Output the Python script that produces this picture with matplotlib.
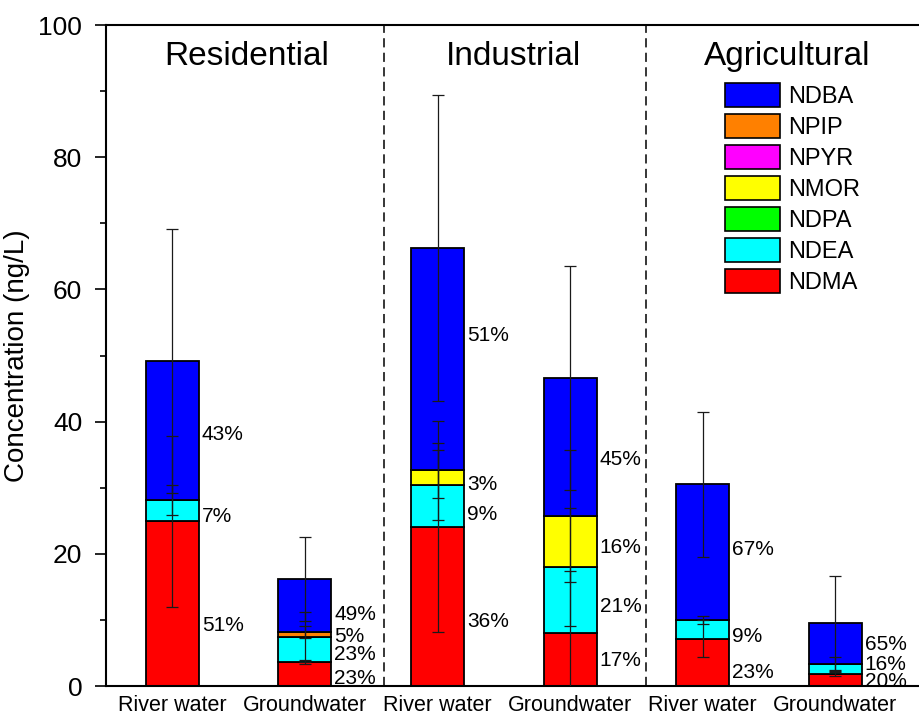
import matplotlib
matplotlib.use("Agg")
import matplotlib.pyplot as plt
from matplotlib.patches import Patch
import numpy as np

plt.rcParams["font.family"] = ["Liberation Sans", "DejaVu Sans"]

# ---- data -------------------------------------------------------------
groups = ["Residential", "Industrial", "Agricultural"]
sample_types = ["River water", "Groundwater", "River water",
                "Groundwater", "River water", "Groundwater"]

compounds = ["NDMA", "NDEA", "NDPA", "NMOR", "NPYR", "NPIP", "NDBA"]

# mean concentrations (ng/L), one value per bar
NDMA = [24.90, 3.70, 24.13, 8.06, 7.14, 1.86]
NDEA = [3.25, 3.72, 6.23, 9.97, 2.84, 1.48]
NDPA = [0.0, 0.0, 0.0, 0.0, 0.0, 0.0]
NMOR = [0.0, 0.0, 2.25, 7.64, 0.0, 0.0]
NPYR = [0.0, 0.0, 0.0, 0.0, 0.0, 0.0]
NPIP = [0.0, 0.80, 0.0, 0.0, 0.0, 0.0]
NDBA = [21.06, 7.98, 33.68, 20.92, 20.53, 6.16]

# standard deviations (ng/L)
NDMA_sd = [13.0, 0.3, 16.0, 9.4, 2.8, 0.3]
NDEA_sd = [2.3, 3.8, 5.3, 8.9, 0.6, 1.1]
NDPA_sd = [0.0, 0.0, 0.0, 0.0, 0.0, 0.0]
NMOR_sd = [0.0, 0.0, 4.1, 10.0, 0.0, 0.0]
NPYR_sd = [0.0, 0.0, 0.0, 0.0, 0.0, 0.0]
NPIP_sd = [0.0, 0.9, 0.0, 0.0, 0.0, 0.0]
NDBA_sd = [20.0, 6.3, 23.1, 17.0, 11.0, 7.1]

yticks = [0, 20, 40, 60, 80, 100]

# ---- styling / layout --------------------------------------------------
colors = {"NDMA": "#FF0000", "NDEA": "#00FFFF", "NDPA": "#00FF00",
          "NMOR": "#FFFF00", "NPYR": "#FF00FF", "NPIP": "#FF8000",
          "NDBA": "#0000FF"}
bar_width = 0.4
group_title_x = [0.56, 2.57, 4.64]
group_title_y = 95.8
divider_x = [1.6, 3.575]
# vertical placement of the share labels (bottom-to-top per bar)
pct_label_y = [[9.4, 25.9, 38.3],
               [1.4, 5.1, 7.8, 11.1],
               [10.1, 26.2, 30.8, 53.4],
               [4.1, 12.4, 21.3, 34.6],
               [2.4, 7.8, 21.0],
               [0.95, 3.6, 6.6]]

values = {"NDMA": NDMA, "NDEA": NDEA, "NDPA": NDPA, "NMOR": NMOR,
          "NPYR": NPYR, "NPIP": NPIP, "NDBA": NDBA}
errors = {"NDMA": NDMA_sd, "NDEA": NDEA_sd, "NDPA": NDPA_sd,
          "NMOR": NMOR_sd, "NPYR": NPYR_sd, "NPIP": NPIP_sd,
          "NDBA": NDBA_sd}

fig = plt.figure(figsize=(9.2, 7.2), dpi=100)
ax = fig.add_axes([0.1152, 0.0472, 0.905, 0.918])

x = np.arange(len(sample_types))
totals = np.sum([values[c] for c in compounds], axis=0)
bottom = np.zeros(len(x))

for c in compounds:
    v = np.array(values[c])
    ax.bar(x, v, bar_width, bottom=bottom, color=colors[c],
           edgecolor="black", linewidth=1.3, zorder=2)
    top = bottom + v
    mask = v > 0
    ax.errorbar(x[mask], top[mask], yerr=np.array(errors[c])[mask],
                fmt="none", ecolor="#1a1a1a", elinewidth=0.9,
                capsize=4.5, capthick=0.9, zorder=3)
    bottom = top

# share labels
for i in range(len(x)):
    k = 0
    for c in compounds:
        v = values[c][i]
        if v <= 0:
            continue
        pct = int(round(100 * v / totals[i]))
        ax.text(x[i] + bar_width / 2 + 0.022, pct_label_y[i][k], f"{pct}%",
                fontsize=15, ha="left", va="center_baseline", zorder=4)
        k += 1

# group separators and titles
for dx in divider_x:
    ax.axvline(dx, color="black", linewidth=1.1, linestyle=(0, (6, 3.5)),
               zorder=1)
for gx, g in zip(group_title_x, groups):
    ax.text(gx, group_title_y, g, fontsize=24, ha="center",
            va="center_baseline")

# axes
ax.set_xlim(-0.5, 5.778)
ax.set_ylim(0, 100)
ax.set_xticks(x)
ax.set_xticklabels(sample_types, fontsize=15.5)
ax.tick_params(axis="x", length=0, pad=6.5)
ax.set_yticks(yticks)
ax.set_yticks(np.arange(10, 100, 20), minor=True)
ax.tick_params(axis="y", which="major", labelsize=19, length=8,
               width=1.2, direction="out", pad=9)
ax.tick_params(axis="y", which="minor", length=4.5, width=1.2,
               direction="out")
ax.set_ylabel("Concentration (ng/L)", fontsize=20, labelpad=6)
for s in ["left", "bottom", "top"]:
    ax.spines[s].set_linewidth(1.5)
ax.spines["right"].set_visible(False)

# legend (top entry is the top of the stack)
handles = [Patch(facecolor=colors[c], edgecolor="black", linewidth=1.2,
                 label=c) for c in reversed(compounds)]
ax.legend(handles=handles, loc="upper left", frameon=False,
          fontsize=17, handlelength=2.33, handleheight=1.2,
          labelspacing=0.25, handletextpad=0.34, borderpad=0,
          borderaxespad=0, bbox_to_anchor=(725 / 920, 1 - 83 / 720),
          bbox_transform=fig.transFigure)

fig.savefig("out.png", dpi=100)
